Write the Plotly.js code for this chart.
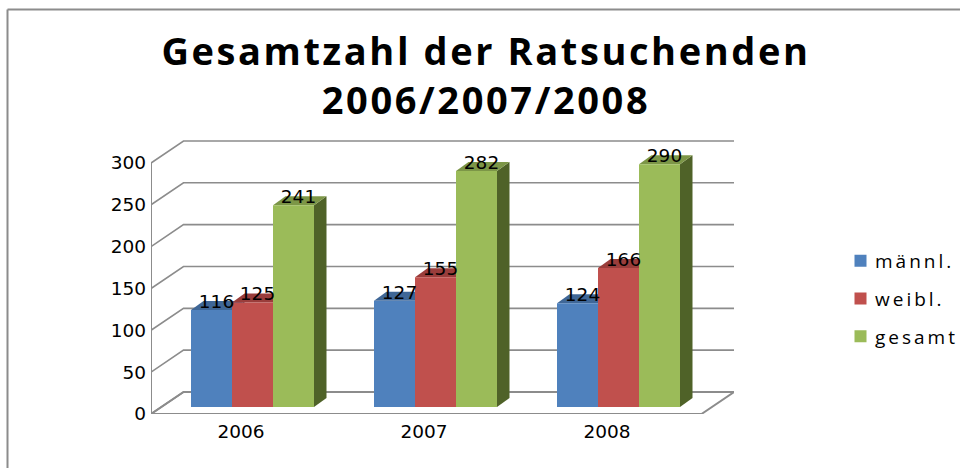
<!DOCTYPE html>
<html>
<head>
<meta charset="utf-8">
<script src="https://cdn.plot.ly/plotly-3.0.1.min.js"></script>
<style>
html,body{margin:0;padding:0;background:#fff;}
#chart{width:960px;height:468px;}
.gtitle{letter-spacing:2.6px;}
.legendtext{letter-spacing:3px;transform:translateX(-5.5px);}
</style>
</head>
<body>
<div id="chart"></div>
<script>
// --- data ---
const categories = ["2006", "2007", "2008"];
const maennl = [116, 127, 124];
const weibl  = [125, 155, 166];
const gesamt = [241, 282, 290];
const seriesNames = ["männl.", "weibl.", "gesamt"];
const tickValues = [0, 50, 100, 150, 200, 250, 300];

// --- style / projection constants ---
const frontColors = ["#4f81bd", "#c0504d", "#9bbb59"];
const topColors   = ["#3f6797", "#9a3d3b", "#7c9647"];
const sideColors  = ["#2f4d71", "#70302e", "#4f6228"];
const gridColor = "#8c8c8c";
const pxPerCat = 183, pxPerVal = 0.8367;
const L = 151, R = 226, T = 140, B = 54;
const xRange = [-(241 - L) / pxPerCat, (960 - R - 241) / pxPerCat];
const yRange = [0, (468 - B - T) / pxPerVal];
const wallDx = 32.5 / pxPerCat, wallDy = 22 / pxPerVal;
const barDx = 12.5 / pxPerCat, barDy = 9 / pxPerVal;
const lift = 7 / pxPerVal;
const barW = 41 / pxPerCat;
const floorRight = xRange[1] - wallDx;
const shifts = [-29.5 / pxPerCat, 11.5 / pxPerCat, 52.5 / pxPerCat];
const labelShift = 5 / pxPerCat;
const labelDrop = 2.5 / pxPerVal;

const allSeries = [maennl, weibl, gesamt];
const catIdx = categories.map((_, i) => i);
const traces = [];

// floor
traces.push({
  type: "scatter", mode: "lines", showlegend: false, hoverinfo: "skip", cliponaxis: false,
  x: [xRange[0], floorRight, xRange[1], xRange[0] + wallDx, xRange[0]],
  y: [0, 0, wallDy, wallDy, 0],
  fill: "toself", fillcolor: "#ffffff",
  line: { color: gridColor, width: 2 }
});
// wall grid lines
tickValues.forEach(v => {
  traces.push({
    type: "scatter", mode: "lines", showlegend: false, hoverinfo: "skip", cliponaxis: false,
    x: [xRange[0], xRange[0] + wallDx, xRange[1]],
    y: [v, v + wallDy, v + wallDy],
    line: { color: gridColor, width: 1.6 }
  });
});
// left wall edge
traces.push({
  type: "scatter", mode: "lines", showlegend: false, hoverinfo: "skip", cliponaxis: false,
  x: [xRange[0], xRange[0]],
  y: [tickValues[0], tickValues[tickValues.length - 1]],
  line: { color: gridColor, width: 2 }
});

// top and side faces, underneath the fronts
allSeries.forEach((vals, s) => {
  catIdx.forEach(i => {
    const x0 = i + shifts[s] - barW / 2, x1 = i + shifts[s] + barW / 2;
    const top = vals[i] + lift;
    traces.push({
      type: "scatter", mode: "lines", showlegend: false, hoverinfo: "skip", cliponaxis: false,
      x: [x1, x1 + barDx, x1 + barDx, x1, x1],
      y: [lift, lift + barDy, top + barDy, top, lift],
      fill: "toself", fillcolor: sideColors[s], line: { width: 0, color: sideColors[s] }
    });
    traces.push({
      type: "scatter", mode: "lines", showlegend: false, hoverinfo: "skip", cliponaxis: false,
      x: [x0, x1, x1 + barDx, x0 + barDx, x0],
      y: [top, top, top + barDy, top + barDy, top],
      fill: "toself", fillcolor: topColors[s], line: { width: 0, color: topColors[s] }
    });
  });
});

// front faces: bars on the overlay subplot
allSeries.forEach((vals, s) => {
  traces.push({
    type: "bar", name: seriesNames[s], legendgroup: seriesNames[s],
    x: catIdx.map(i => i + shifts[s]), y: vals, base: lift, width: barW,
    marker: { color: frontColors[s], line: { width: 0 } },
    xaxis: "x2", yaxis: "y2", hovertemplate: seriesNames[s] + ": %{y}<extra></extra>"
  });
});
// data labels
allSeries.forEach((vals, s) => {
  traces.push({
    type: "scatter", mode: "text", showlegend: false, hoverinfo: "skip", cliponaxis: false,
    x: catIdx.map(i => i + shifts[s] + labelShift),
    y: vals.map(v => v + lift - labelDrop),
    text: vals.map(String), textposition: "top center",
    textfont: { family: "DejaVu Sans", size: 18.5, color: "#000" },
    xaxis: "x2", yaxis: "y2"
  });
});

const tickFont = { family: "DejaVu Sans", size: 18.5, color: "#000" };
const pw = 960 - L - R, ph = 468 - T - B;
const px = v => (v - L) / pw;
const py = v => (468 - B - v) / ph;
const frameLine = { color: "#8c8c8c", width: 2 };
const layout = {
  width: 960, height: 468,
  margin: { l: L, r: R, t: T, b: B, pad: 0, autoexpand: false },
  paper_bgcolor: "#fff", plot_bgcolor: "rgba(0,0,0,0)",
  barmode: "overlay",
  title: {
    text: "Gesamtzahl der Ratsuchenden<br>2006/2007/2008",
    font: { family: "Open Sans", size: 38, weight: 700, color: "#000" },
    x: 486 / 960, xref: "container", xanchor: "center",
    y: 1 - 65 / 468, yref: "container", yanchor: "bottom"
  },
  xaxis: {
    range: xRange, tickmode: "array", tickvals: catIdx, ticktext: categories,
    showgrid: false, zeroline: false, showline: false, ticks: "", tickfont: tickFont, ticklabelstandoff: 4
  },
  yaxis: {
    range: yRange, tickmode: "array", tickvals: tickValues,
    showgrid: false, zeroline: false, showline: false, ticks: "", tickfont: tickFont, ticklabelstandoff: 4
  },
  xaxis2: { range: xRange, overlaying: "x", anchor: "y2", visible: false },
  yaxis2: { range: yRange, overlaying: "y", anchor: "x2", visible: false },
  showlegend: true,
  legend: {
    x: px(840.5), xanchor: "left", y: py(242), yanchor: "top",
    traceorder: "grouped", tracegroupgap: 10, itemclick: false, itemdoubleclick: false,
    font: { family: "Open Sans", size: 19, color: "#000" },
    bgcolor: "rgba(0,0,0,0)", itemwidth: 30
  },
  shapes: [
    { type: "line", xref: "paper", yref: "paper", layer: "below",
      x0: px(7.5), x1: px(960), y0: py(9.5), y1: py(9.5), line: frameLine },
    { type: "line", xref: "paper", yref: "paper", layer: "below",
      x0: px(7.5), x1: px(7.5), y0: py(9.5), y1: py(468), line: frameLine }
  ]
};
Plotly.newPlot("chart", traces, layout, { displayModeBar: false, responsive: false });
</script>
</body>
</html>
